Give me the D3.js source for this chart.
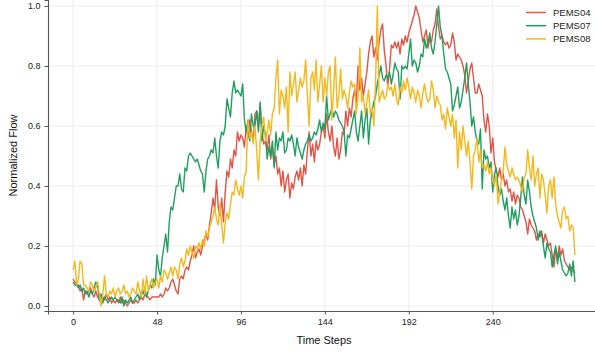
<!DOCTYPE html>
<html>
<head>
<meta charset="utf-8">
<script src="https://cdn.jsdelivr.net/npm/d3@7"></script>
<style>
  body { margin: 0; background: #fff; }
  svg { display: block; font-family: "Liberation Sans", Arial, sans-serif; }
</style>
</head>
<body>
<svg id="chart" width="595" height="353"></svg>
<script>
const seriesNames = ['PEMS04', 'PEMS07', 'PEMS08'];
const seriesColors = ['#e15446', '#1f9e5f', '#f4b81c'];
const xTicks = [0, 48, 96, 144, 192, 240];
const yTicks = [0.0, 0.2, 0.4, 0.6, 0.8, 1.0];

// PEMS04, one value per 5-min step (288 steps)
const pems04 = [
  0.09, 0.08, 0.07, 0.07, 0.05, 0.06, 0.02, 0.05, 0.04, 0.05, 0.06, 0.04,
  0.03, 0.05, 0.03, 0.02, 0.01, 0.03, 0.02, 0.04, 0.02, 0.03, 0.01, 0.02,
  0.01, 0.02, 0.01, 0.03, 0.01, 0.02, 0.01, 0.00, 0.01, 0.02, 0.01, 0.01,
  0.02, 0.01, 0.02, 0.03, 0.02, 0.04, 0.03, 0.03, 0.02, 0.03, 0.03, 0.03,
  0.03, 0.03, 0.04, 0.03, 0.04, 0.06, 0.05, 0.06, 0.08, 0.09, 0.07, 0.05,
  0.04, 0.09, 0.10, 0.09, 0.12, 0.13, 0.12, 0.15, 0.17, 0.20, 0.16, 0.18,
  0.19, 0.17, 0.20, 0.22, 0.24, 0.22, 0.27, 0.31, 0.36, 0.32, 0.42, 0.33,
  0.30, 0.36, 0.28, 0.38, 0.45, 0.43, 0.49, 0.46, 0.52, 0.50, 0.58, 0.55,
  0.57, 0.56, 0.53, 0.60, 0.56, 0.62, 0.58, 0.55, 0.64, 0.65, 0.60, 0.67,
  0.58, 0.54, 0.55, 0.52, 0.57, 0.49, 0.53, 0.47, 0.50, 0.44, 0.46, 0.40,
  0.45, 0.38, 0.42, 0.44, 0.36, 0.41, 0.39, 0.43, 0.45, 0.42, 0.46, 0.40,
  0.47, 0.44, 0.52, 0.58, 0.50, 0.54, 0.48, 0.55, 0.52, 0.54, 0.58, 0.60,
  0.56, 0.64, 0.58, 0.55, 0.60, 0.53, 0.50, 0.56, 0.49, 0.52, 0.58, 0.57,
  0.65, 0.60, 0.66, 0.63, 0.69, 0.72, 0.68, 0.80, 0.72, 0.76, 0.70, 0.74,
  0.78, 0.84, 0.88, 0.90, 0.83, 0.86, 0.82, 0.88, 0.92, 0.94, 0.85, 0.80,
  0.73, 0.79, 0.87, 0.86, 0.88, 0.86, 0.88, 0.84, 0.89, 0.87, 0.90, 0.88,
  0.91, 0.93, 0.95, 0.97, 1.00, 0.98, 0.96, 0.92, 0.88, 0.90, 0.92, 0.86,
  0.89, 0.88, 0.92, 0.94, 0.99, 0.93, 0.89, 0.90, 0.88, 0.87, 0.88, 0.86,
  0.87, 0.91, 0.88, 0.82, 0.84, 0.83, 0.82, 0.80, 0.77, 0.71, 0.75, 0.79,
  0.81, 0.76, 0.71, 0.71, 0.74, 0.72, 0.70, 0.62, 0.58, 0.64, 0.60, 0.51,
  0.56, 0.48, 0.45, 0.43, 0.46, 0.42, 0.44, 0.40, 0.42, 0.38, 0.39, 0.35,
  0.38, 0.34, 0.37, 0.36, 0.33, 0.32, 0.30, 0.28, 0.24, 0.29, 0.27, 0.26,
  0.25, 0.22, 0.24, 0.23, 0.25, 0.21, 0.24, 0.22, 0.20, 0.21, 0.17, 0.13,
  0.19, 0.16, 0.20, 0.17, 0.19, 0.15, 0.14, 0.13, 0.12, 0.13, 0.12, 0.11
];

const pems07 = [
  0.08, 0.07, 0.07, 0.06, 0.07, 0.05, 0.06, 0.04, 0.05, 0.03, 0.05, 0.04,
  0.06, 0.08, 0.07, 0.02, 0.04, 0.01, 0.03, 0.02, 0.01, 0.02, 0.03, 0.02,
  0.03, 0.02, 0.02, 0.01, 0.03, 0.00, 0.02, 0.01, 0.02, 0.03, 0.01, 0.02,
  0.03, 0.04, 0.02, 0.05, 0.04, 0.06, 0.03, 0.05, 0.07, 0.06, 0.09, 0.07,
  0.17, 0.12, 0.10, 0.16, 0.20, 0.24, 0.18, 0.28, 0.33, 0.32, 0.36, 0.40,
  0.40, 0.44, 0.39, 0.38, 0.46, 0.45, 0.50, 0.51, 0.50, 0.49, 0.48, 0.49,
  0.47, 0.45, 0.44, 0.38, 0.45, 0.49, 0.50, 0.52, 0.51, 0.56, 0.50, 0.46,
  0.55, 0.58, 0.57, 0.60, 0.69, 0.66, 0.63, 0.71, 0.75, 0.71, 0.72, 0.71,
  0.70, 0.74, 0.62, 0.58, 0.62, 0.55, 0.64, 0.60, 0.60, 0.65, 0.58, 0.68,
  0.55, 0.60, 0.57, 0.49, 0.53, 0.50, 0.55, 0.46, 0.58, 0.52, 0.56, 0.55,
  0.58, 0.51, 0.52, 0.56, 0.55, 0.57, 0.54, 0.50, 0.56, 0.53, 0.51, 0.49,
  0.52, 0.54, 0.55, 0.57, 0.55, 0.56, 0.58, 0.57, 0.59, 0.62, 0.58, 0.61,
  0.59, 0.70, 0.62, 0.64, 0.66, 0.63, 0.65, 0.64, 0.62, 0.61, 0.60, 0.58,
  0.50, 0.57, 0.56, 0.59, 0.62, 0.65, 0.58, 0.55, 0.60, 0.65, 0.56, 0.62,
  0.66, 0.54, 0.62, 0.65, 0.68, 0.70, 0.74, 0.77, 0.80, 0.76, 0.75, 0.77,
  0.76, 0.78, 0.74, 0.77, 0.81, 0.79, 0.78, 0.69, 0.80, 0.79, 0.80, 0.79,
  0.84, 0.89, 0.80, 0.82, 0.81, 0.78, 0.80, 0.84, 0.83, 0.89, 0.86, 0.88,
  0.91, 0.86, 0.84, 0.88, 0.94, 1.00, 0.93, 0.90, 0.84, 0.79, 0.78, 0.76,
  0.74, 0.65, 0.67, 0.70, 0.73, 0.66, 0.68, 0.72, 0.76, 0.81, 0.74, 0.68,
  0.60, 0.63, 0.58, 0.55, 0.54, 0.59, 0.39, 0.52, 0.49, 0.50, 0.46, 0.48,
  0.38, 0.44, 0.46, 0.40, 0.37, 0.39, 0.35, 0.32, 0.36, 0.30, 0.26, 0.33,
  0.29, 0.32, 0.27, 0.30, 0.36, 0.43, 0.37, 0.34, 0.42, 0.38, 0.33, 0.30,
  0.28, 0.26, 0.22, 0.25, 0.24, 0.20, 0.16, 0.21, 0.19, 0.18, 0.13, 0.17,
  0.20, 0.14, 0.18, 0.15, 0.12, 0.11, 0.10, 0.11, 0.14, 0.10, 0.15, 0.08
];

const pems08 = [
  0.12, 0.15, 0.07, 0.09, 0.15, 0.14, 0.07, 0.07, 0.06, 0.05, 0.08, 0.07,
  0.05, 0.06, 0.08, 0.04, 0.00, 0.04, 0.10, 0.04, 0.03, 0.05, 0.04, 0.06,
  0.03, 0.05, 0.06, 0.04, 0.05, 0.07, 0.04, 0.05, 0.03, 0.04, 0.06, 0.05,
  0.04, 0.08, 0.05, 0.03, 0.09, 0.04, 0.10, 0.05, 0.07, 0.09, 0.06, 0.08,
  0.09, 0.06, 0.10, 0.08, 0.12, 0.11, 0.09, 0.11, 0.13, 0.10, 0.13, 0.12,
  0.09, 0.14, 0.16, 0.13, 0.15, 0.19, 0.17, 0.20, 0.18, 0.16, 0.20, 0.19,
  0.21, 0.19, 0.22, 0.20, 0.25, 0.23, 0.26, 0.28, 0.30, 0.33, 0.29, 0.27,
  0.34, 0.27, 0.21, 0.28, 0.31, 0.29, 0.34, 0.38, 0.37, 0.42, 0.39, 0.37,
  0.40, 0.36, 0.43, 0.45, 0.62, 0.56, 0.58, 0.54, 0.60, 0.52, 0.42, 0.55,
  0.60, 0.63, 0.55, 0.58, 0.62, 0.57, 0.64, 0.66, 0.76, 0.82, 0.64, 0.72,
  0.70, 0.66, 0.73, 0.58, 0.78, 0.70, 0.74, 0.78, 0.68, 0.72, 0.76, 0.73,
  0.75, 0.82, 0.70, 0.60, 0.76, 0.78, 0.72, 0.82, 0.68, 0.74, 0.80, 0.68,
  0.76, 0.70, 0.78, 0.80, 0.62, 0.72, 0.83, 0.66, 0.70, 0.79, 0.69, 0.72,
  0.70, 0.66, 0.71, 0.75, 0.73, 0.74, 0.64, 0.70, 0.86, 0.68, 0.70, 0.64,
  0.68, 0.72, 0.64, 0.66, 0.60, 0.75, 1.00, 0.68, 0.70, 0.72, 0.69, 0.70,
  0.74, 0.72, 0.73, 0.70, 0.74, 0.69, 0.67, 0.73, 0.71, 0.75, 0.72, 0.76,
  0.73, 0.69, 0.73, 0.71, 0.68, 0.72, 0.70, 0.66, 0.71, 0.74, 0.70, 0.68,
  0.69, 0.75, 0.72, 0.66, 0.70, 0.68, 0.67, 0.62, 0.64, 0.59, 0.66, 0.63,
  0.60, 0.64, 0.56, 0.62, 0.46, 0.58, 0.52, 0.60, 0.55, 0.50, 0.55, 0.48,
  0.39, 0.50, 0.52, 0.56, 0.48, 0.52, 0.46, 0.47, 0.45, 0.48, 0.44, 0.46,
  0.42, 0.40, 0.44, 0.34, 0.38, 0.42, 0.45, 0.53, 0.47, 0.45, 0.43, 0.46,
  0.44, 0.42, 0.43, 0.42, 0.40, 0.38, 0.43, 0.44, 0.52, 0.46, 0.42, 0.50,
  0.40, 0.44, 0.46, 0.36, 0.44, 0.42, 0.37, 0.31, 0.40, 0.42, 0.36, 0.43,
  0.34, 0.30, 0.28, 0.26, 0.32, 0.33, 0.29, 0.30, 0.25, 0.27, 0.26, 0.17
];

const allSeries = [pems04, pems07, pems08];

const svg = d3.select('#chart');
const plotLeft = 48, plotRight = 600, plotTop = 0, plotBottom = 311;

const x = d3.scaleLinear().domain([-14.35, 301.35]).range([plotLeft, plotRight]);
const y = d3.scaleLinear().domain([-0.0167, 1.02]).range([plotBottom, plotTop]);

// grid
svg.append('g').selectAll('line').data(xTicks).enter().append('line')
  .attr('x1', d => x(d)).attr('x2', d => x(d))
  .attr('y1', plotTop).attr('y2', plotBottom)
  .attr('stroke', '#ebebeb').attr('stroke-width', 1);
svg.append('g').selectAll('line').data(yTicks).enter().append('line')
  .attr('x1', plotLeft).attr('x2', plotRight)
  .attr('y1', d => y(d)).attr('y2', d => y(d))
  .attr('stroke', '#ebebeb').attr('stroke-width', 1);

// lines
const line = d3.line().x((d, i) => x(i)).y(d => y(d));
svg.append('g').selectAll('path').data(allSeries).enter().append('path')
  .attr('d', d => line(d))
  .attr('fill', 'none')
  .attr('stroke', (d, i) => seriesColors[i])
  .attr('stroke-width', 1.4)
  .attr('stroke-linejoin', 'round');

// axes
const xAxis = svg.append('g').attr('transform', 'translate(0,' + plotBottom + ')')
  .call(d3.axisBottom(x).tickValues(xTicks).tickSize(3.5).tickPadding(4));
const yAxis = svg.append('g').attr('transform', 'translate(' + plotLeft + ',0)')
  .call(d3.axisLeft(y).tickValues(yTicks).tickFormat(d3.format('.1f')).tickSize(3.5).tickPadding(4));
[xAxis, yAxis].forEach(a => {
  a.select('.domain').attr('stroke', '#555').attr('stroke-width', 1.1);
  a.selectAll('.tick line').attr('stroke', '#555');
  a.selectAll('.tick text').attr('fill', '#222').style('font-size', '9px')
    .style('font-family', '"Liberation Sans", Arial, sans-serif');
});

svg.append('text').attr('x', (plotLeft + plotRight) / 2).attr('y', 344)
  .attr('text-anchor', 'middle').attr('font-size', 11).attr('fill', '#111')
  .text('Time Steps');
svg.append('text').attr('transform', 'translate(17,' + (plotTop + plotBottom) / 2 + ') rotate(-90)')
  .attr('text-anchor', 'middle').attr('font-size', 11).attr('fill', '#111')
  .text('Normalized Flow');

// legend
const legend = svg.append('g');
legend.append('rect').attr('x', 520).attr('y', 2).attr('width', 80).attr('height', 46)
  .attr('fill', '#fff').attr('fill-opacity', 0.85);
const items = legend.selectAll('g.item').data(seriesNames).enter().append('g')
  .attr('transform', (d, i) => 'translate(526,' + (12.5 + i * 13.2) + ')');
items.append('line').attr('x1', 0).attr('x2', 20)
  .attr('stroke', (d, i) => seriesColors[i]).attr('stroke-width', 1.5);
items.append('text').attr('x', 27).attr('y', 3.3).attr('font-size', 9.5).attr('fill', '#222')
  .text(d => d);
</script>
</body>
</html>
